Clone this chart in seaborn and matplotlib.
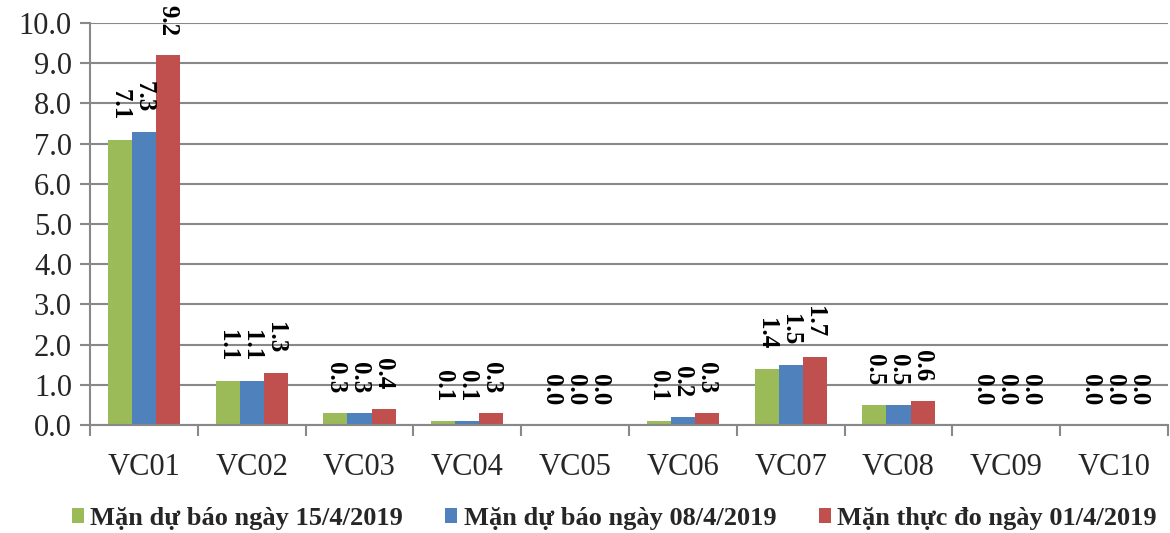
import matplotlib
matplotlib.use("Agg")
import matplotlib.pyplot as plt
import seaborn as sns
import pandas as pd
import numpy as np

categories = ["VC01", "VC02", "VC03", "VC04", "VC05", "VC06", "VC07", "VC08", "VC09", "VC10"]
series_names = ["Mặn dự báo ngày 15/4/2019", "Mặn dự báo ngày 08/4/2019", "Mặn thực đo ngày 01/4/2019"]
forecast_15 = [7.1, 1.1, 0.3, 0.1, 0.0, 0.1, 1.4, 0.5, 0.0, 0.0]
forecast_08 = [7.3, 1.1, 0.3, 0.1, 0.0, 0.2, 1.5, 0.5, 0.0, 0.0]
measured_01 = [9.2, 1.3, 0.4, 0.3, 0.0, 0.3, 1.7, 0.6, 0.0, 0.0]
colors = ["#9BBB59", "#4F81BD", "#C0504D"]
yticks = [0, 1, 2, 3, 4, 5, 6, 7, 8, 9, 10]

rows = []
for name, vals in zip(series_names, [forecast_15, forecast_08, measured_01]):
    for c, v in zip(categories, vals):
        rows.append({"cat": c, "series": name, "value": v})
df = pd.DataFrame(rows)

sns.set_theme(style="white")
plt.rcParams["font.family"] = ["Liberation Serif", "DejaVu Serif"]

fig = plt.figure(figsize=(11.7, 5.33), dpi=100)
ax = fig.add_axes([90/1170, 1-425/533, (1168-90)/1170, (425-23)/533])

sns.barplot(data=df, x="cat", y="value", hue="series", palette=colors,
            hue_order=series_names, order=categories, width=0.67,
            saturation=1, ax=ax, errorbar=None, legend=True, linewidth=0)

for cont in ax.containers:
    ax.bar_label(cont, fmt="%.1f", rotation=270, padding=14,
                 fontsize=18, fontweight="bold", color="black")

ax.set_ylim(0, 10)
ax.set_yticks(yticks)
ax.set_yticklabels([f"{t:.1f}" for t in yticks], fontsize=22)
ax.set_xlim(-0.5, len(categories) - 0.5)
ax.set_xticks(range(len(categories)))
ax.set_xticklabels(categories, fontsize=22)
ax.set_xticks(np.arange(-0.5, len(categories) + 0.5, 1), minor=True)
ax.tick_params(axis="x", which="major", length=0, pad=20)
ax.tick_params(axis="x", which="minor", length=8, width=1.5, color="#888888", direction="out", bottom=True)
ax.tick_params(axis="y", length=7, width=1.5, color="#888888", direction="out", left=True, pad=6)
ax.set_xlabel("")
ax.set_ylabel("")
ax.grid(axis="y", color="#888888", linewidth=1.5)
ax.set_axisbelow(True)
for s in ["top", "right"]:
    ax.spines[s].set_visible(False)
for s in ["left", "bottom"]:
    ax.spines[s].set_color("#888888")
    ax.spines[s].set_linewidth(1.5)

handles, labels = ax.get_legend_handles_labels()
ax.legend_.remove()
fig.legend(handles, labels, loc="center", bbox_to_anchor=(0.525, 0.028), ncol=3,
           frameon=False, prop={"weight": "bold", "size": 19},
           handlelength=0.45, handleheight=0.5, handletextpad=0.25, columnspacing=1.6)

fig.savefig("out.png", dpi=100)
